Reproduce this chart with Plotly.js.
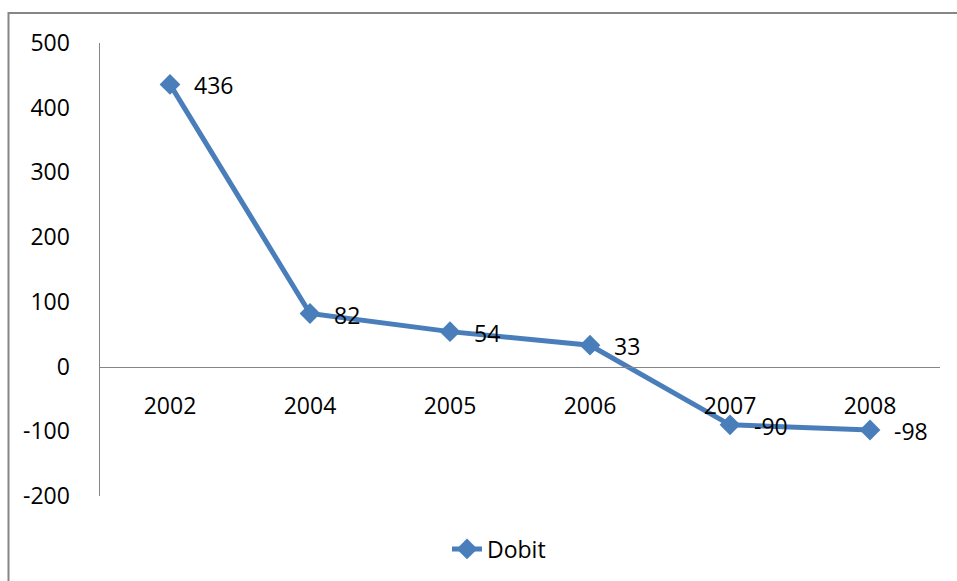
<!DOCTYPE html>
<html>
<head>
<meta charset="utf-8">
<script src="https://cdn.plot.ly/plotly-3.0.1.min.js"></script>
<style>html,body{margin:0;padding:0;background:#fff;}#chart{width:957px;height:581px;}</style>
</head>
<body>
<div id="chart"></div>
<script>
const categories = ["2002", "2004", "2005", "2006", "2007", "2008"];
const dobit = [436, 82, 54, 33, -90, -98];
const seriesName = "Dobit";
const yTicks = [-200, -100, 0, 100, 200, 300, 400, 500];
const yTickText = ["-200", "-100", "0", "100", "200", "300", "400", "500"];

const W = 957, H = 581;
const m = {l: 100, r: 17, t: 43, b: 84};
const pw = W - m.l - m.r, ph = H - m.t - m.b;
const px = v => (v - m.l) / pw;
const py = v => (H - m.b - v) / ph;

const font = {family: "Open Sans, Noto Sans, sans-serif", size: 23, color: "#000"};
const blue = "#4A7EBB";

const trace = {
  x: categories,
  y: dobit,
  name: seriesName,
  type: "scatter",
  mode: "lines+markers",
  line: {color: blue, width: 5},
  marker: {symbol: "diamond", size: 16, color: blue},
  cliponaxis: false
};

const annotations = dobit.map((v, i) => ({
  x: i, y: v, xref: "x", yref: "y",
  text: String(v), showarrow: false,
  xanchor: "left", yanchor: "middle", xshift: 22, yshift: -1,
  font: {family: "Open Sans, Noto Sans, sans-serif", size: 23, color: "#000"}
}));

const layout = {
  width: W, height: H,
  margin: m,
  paper_bgcolor: "#fff",
  plot_bgcolor: "#fff",
  font: font,
  showlegend: true,
  legend: {orientation: "h", x: px(499), xanchor: "center", y: py(549), yanchor: "middle", font: font},
  xaxis: {
    type: "category",
    range: [-0.5, 5.5],
    anchor: "free",
    position: 200 / 700,
    showline: true, linecolor: "#868686", linewidth: 1.5,
    showgrid: false, zeroline: false,
    ticks: "", ticklabelstandoff: 18,
    tickfont: font
  },
  yaxis: {
    range: [-200, 500],
    tickvals: yTicks,
    ticktext: yTickText,
    showline: true, linecolor: "#868686", linewidth: 1.5,
    showgrid: false, zeroline: false,
    ticks: "", ticklabelstandoff: 24,
    tickfont: font
  },
  annotations: annotations,
  shapes: [{
    type: "rect", xref: "paper", yref: "paper",
    x0: px(8.5), x1: px(990), y0: py(620), y1: py(13),
    line: {color: "#868686", width: 2}, fillcolor: "rgba(0,0,0,0)", layer: "below"
  }]
};

Plotly.newPlot("chart", [trace], layout, {displayModeBar: false, staticPlot: true});
</script>
</body>
</html>
